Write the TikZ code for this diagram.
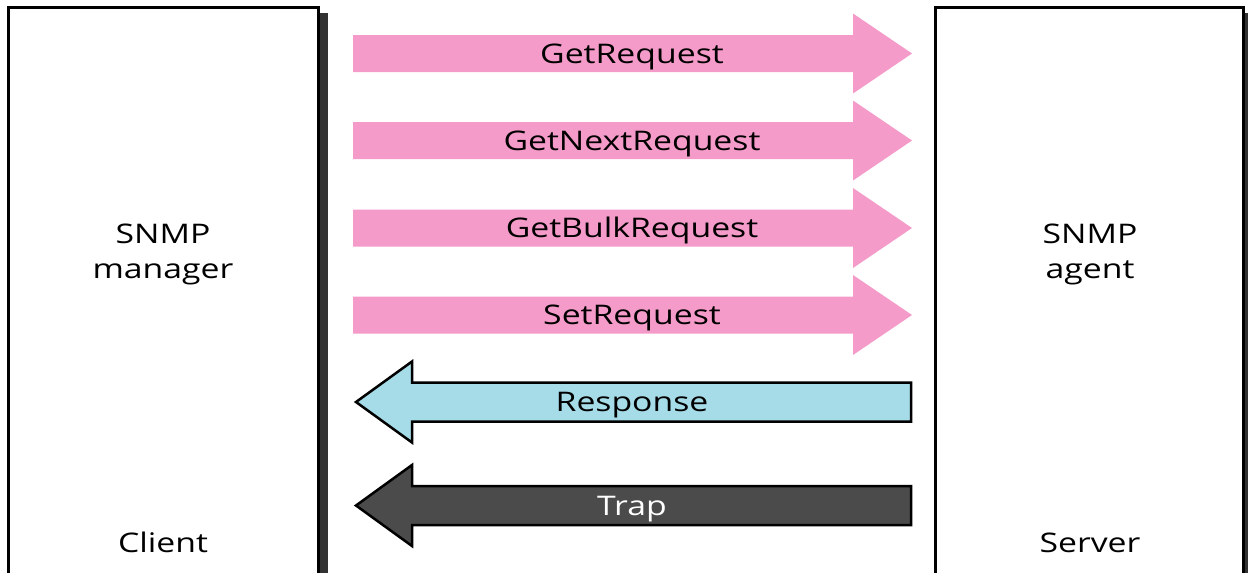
\documentclass[tikz,border=0pt]{standalone}
\usepackage{fontspec}
\setmainfont[FakeStretch=1.25]{Open Sans}
\definecolor{reqpink}{RGB}{245,155,202}
\definecolor{resblue}{RGB}{166,220,232}
\definecolor{trapgray}{RGB}{75,75,75}
\definecolor{boxshade}{RGB}{50,50,50}

% request arrow pointing right: centre y, node name, label
\newcommand\reqarrow[3]{%
  \fill[reqpink] (353,#1-18.5) -- (853,#1-18.5) -- (853,#1-40) -- (912,#1)
    -- (853,#1+40) -- (853,#1+18.5) -- (353,#1+18.5) -- cycle;
  \node[lbl] (#2) at (632,#1+9.5) {#3};}

% outlined arrow pointing left: centre y, fill, text colour, node name, label
\newcommand\backarrow[5]{%
  \filldraw[draw=black, line width=2.5pt, line join=miter, fill=#2]
    (911,#1-19.5) -- (412,#1-19.5) -- (412,#1-40.5) -- (356,#1)
    -- (412,#1+40.5) -- (412,#1+19.5) -- (911,#1+19.5) -- cycle;
  \node[lbl, text=#3] (#4) at (632,#1+9.5) {#5};}

\begin{document}
\begin{tikzpicture}[x=1pt, y=-1pt,
  lbl/.style={font=\fontsize{27}{33}\selectfont, inner sep=0pt, anchor=base},
  box/.style={draw=black, line width=3pt, fill=white, anchor=north west,
    minimum height=640pt, inner sep=0pt, outer sep=0pt}]
\clip (0,0) rectangle (1248,573);
\fill[white] (0,0) rectangle (1248,573);

% manager and agent boxes with their drop shadows
\fill[boxshade] (310,13) rectangle (328,700);
\node[box, minimum width=310pt] (manager) at (8,7.5) {};
\fill[boxshade] (1235,13) rectangle (1252,700);
\node[box, minimum width=308pt] (agent) at (935,7.5) {};

\node[lbl] (mgrA) at (163,243) {SNMP};
\node[lbl] (mgrB) at (163,278) {manager};
\node[lbl] (client) at (163,552) {Client};

\node[lbl] (agtA) at (1090,243) {SNMP};
\node[lbl] (agtB) at (1090,278) {agent};
\node[lbl] (server) at (1090,552) {Server};

% requests from manager to agent
\reqarrow{53.5}{getreq}{GetRequest}
\reqarrow{140.5}{getnext}{GetNextRequest}
\reqarrow{228}{getbulk}{GetBulkRequest}
\reqarrow{315}{setreq}{SetRequest}

% messages from agent to manager
\backarrow{402}{resblue}{black}{response}{Response}
\backarrow{505.5}{trapgray}{white}{trap}{Trap}
\end{tikzpicture}
\end{document}
